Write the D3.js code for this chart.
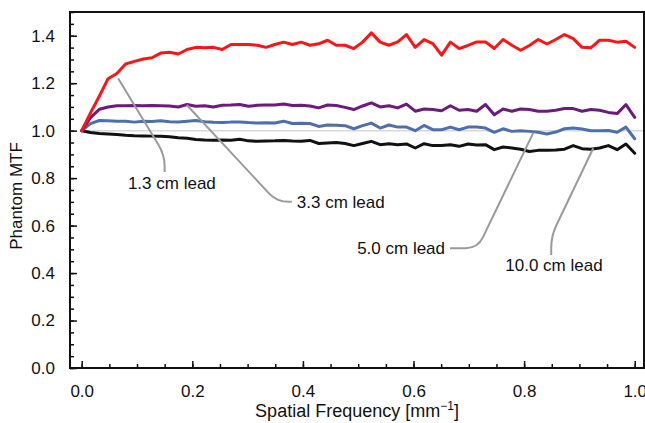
<!DOCTYPE html>
<html>
<head>
<meta charset="utf-8">
<script src="https://cdn.jsdelivr.net/npm/d3@7/dist/d3.min.js"></script>
<style>
  html, body { margin: 0; padding: 0; background: #fff; }
  svg { display: block; }
  text { font-family: "Liberation Sans", Arial, Helvetica, sans-serif; fill: #111; }
</style>
</head>
<body>
<svg id="chart" width="645" height="423"></svg>
<script>
// Phantom MTF vs spatial frequency for four lead thicknesses (64 samples, 0..1 mm^-1)
const nSamples = 64;
const freq = d3.range(nSamples).map(i => i / (nSamples - 1));

const lead13 = [1.000, 1.075, 1.145, 1.219, 1.241, 1.281, 1.292, 1.302, 1.307, 1.327,
  1.330, 1.323, 1.342, 1.351, 1.349, 1.351, 1.342, 1.363, 1.363, 1.363,
  1.360, 1.351, 1.363, 1.373, 1.363, 1.373, 1.360, 1.366, 1.381, 1.360,
  1.360, 1.346, 1.373, 1.412, 1.373, 1.360, 1.374, 1.405, 1.351, 1.384,
  1.367, 1.318, 1.373, 1.346, 1.359, 1.374, 1.374, 1.346, 1.384, 1.360,
  1.339, 1.359, 1.384, 1.365, 1.384, 1.405, 1.388, 1.351, 1.349, 1.381,
  1.381, 1.373, 1.377, 1.351];

const lead33 = [1.000, 1.055, 1.090, 1.100, 1.105, 1.105, 1.106, 1.105, 1.106, 1.105,
  1.104, 1.100, 1.110, 1.103, 1.105, 1.100, 1.107, 1.108, 1.110, 1.103,
  1.107, 1.108, 1.108, 1.112, 1.106, 1.107, 1.104, 1.096, 1.108, 1.106,
  1.098, 1.089, 1.104, 1.117, 1.100, 1.105, 1.096, 1.112, 1.082, 1.091,
  1.089, 1.084, 1.105, 1.086, 1.089, 1.082, 1.110, 1.067, 1.091, 1.082,
  1.091, 1.089, 1.082, 1.082, 1.086, 1.093, 1.093, 1.082, 1.089, 1.086,
  1.077, 1.072, 1.110, 1.056];

const lead50 = [1.000, 1.030, 1.043, 1.042, 1.040, 1.040, 1.036, 1.040, 1.039, 1.042,
  1.038, 1.037, 1.040, 1.043, 1.038, 1.035, 1.034, 1.036, 1.037, 1.034,
  1.032, 1.033, 1.032, 1.040, 1.030, 1.031, 1.030, 1.018, 1.024, 1.023,
  1.021, 1.008, 1.021, 1.032, 1.011, 1.024, 1.015, 1.015, 1.000, 1.022,
  1.004, 1.004, 1.015, 1.004, 1.015, 1.015, 1.011, 0.993, 1.008, 0.997,
  1.000, 0.997, 0.993, 0.986, 0.994, 1.008, 1.011, 1.007, 1.000, 1.000,
  1.001, 0.993, 1.015, 0.966];

const lead100 = [1.000, 0.992, 0.988, 0.986, 0.984, 0.981, 0.979, 0.978, 0.977, 0.976,
  0.974, 0.970, 0.968, 0.963, 0.961, 0.960, 0.961, 0.960, 0.964, 0.957,
  0.955, 0.956, 0.957, 0.959, 0.956, 0.955, 0.959, 0.946, 0.948, 0.950,
  0.946, 0.937, 0.946, 0.955, 0.941, 0.945, 0.941, 0.944, 0.927, 0.945,
  0.937, 0.938, 0.941, 0.934, 0.944, 0.940, 0.941, 0.920, 0.931, 0.927,
  0.922, 0.912, 0.917, 0.917, 0.919, 0.922, 0.937, 0.924, 0.922, 0.927,
  0.937, 0.920, 0.944, 0.905];

const seriesNames = ["10.0 cm lead", "5.0 cm lead", "3.3 cm lead", "1.3 cm lead"];
const seriesValues = [lead100, lead50, lead33, lead13];
const seriesColors = ["#111111", "#4f6eae", "#6c1a7c", "#ff1414"];

const xTicks = [0, 0.2, 0.4, 0.6, 0.8, 1.0];
const xTickLabels = ["0.0", "0.2", "0.4", "0.6", "0.8", "1.0"];
const yTicks = [0, 0.2, 0.4, 0.6, 0.8, 1.0, 1.2, 1.4];
const yTickLabels = ["0.0", "0.2", "0.4", "0.6", "0.8", "1.0", "1.2", "1.4"];
const minorTicks = d3.range(0, 1.5001, 0.05).map(v => +v.toFixed(2));

// Callout labels: anchor on a curve, leader elbow and text position in data units
const callouts = [
  { text: "1.3 cm lead", anchor: [0.066, 1.220], corner: [0.150, 0.897], end: [0.150, 0.826], label: [0.163, 0.780], align: "middle" },
  { text: "3.3 cm lead", anchor: [0.190, 1.108], corner: [0.353, 0.700], end: [0.380, 0.700], label: [0.389, 0.700], align: "start" },
  { text: "5.0 cm lead", anchor: [0.817, 0.993], corner: [0.716, 0.505], end: [0.666, 0.505], label: [0.657, 0.505], align: "end" },
  { text: "10.0 cm lead", anchor: [0.925, 0.926], corner: [0.849, 0.556], end: [0.849, 0.476], label: [0.854, 0.434], align: "middle" }
];

const svg = d3.select("#chart");
const plot = { left: 70, top: 12, right: 644, bottom: 368 };

const x = d3.scaleLinear().domain([-0.0212, 1.0168]).range([plot.left, plot.right]);
const y = d3.scaleLinear().domain([0, 1.5]).range([plot.bottom, plot.top]);

// unity reference line
svg.append("line")
  .attr("x1", x(0)).attr("x2", plot.right)
  .attr("y1", y(1)).attr("y2", y(1))
  .attr("stroke", "#d8d8d8").attr("stroke-width", 1.5);

// curves
const line = d3.line()
  .x((d, i) => x(freq[i]))
  .y(d => y(d));

svg.append("g").selectAll("path")
  .data(seriesValues)
  .join("path")
  .attr("d", d => line(d))
  .attr("fill", "none")
  .attr("stroke", (d, i) => seriesColors[i])
  .attr("stroke-width", 3)
  .attr("stroke-linejoin", "round")
  .attr("stroke-linecap", "round");

// axes with inward ticks
const fontSize = 17;
const yMinor = d3.axisLeft(y).tickValues(minorTicks).tickSize(-4).tickFormat("");
const yMajor = d3.axisLeft(y).tickValues(yTicks).tickSize(-7).tickPadding(15)
  .tickFormat((d, i) => yTickLabels[i]);
const xMinor = d3.axisBottom(x).tickValues(minorTicks.filter(v => v <= 1)).tickSize(-4).tickFormat("");
const xMajor = d3.axisBottom(x).tickValues(xTicks).tickSize(-7).tickPadding(17)
  .tickFormat((d, i) => xTickLabels[i]);

function styleAxis(g) {
  g.select(".domain").remove();
  g.selectAll(".tick line").attr("stroke", "#111").attr("stroke-width", 1.5);
  g.selectAll(".tick text")
    .attr("font-size", fontSize)
    .attr("font-family", "Liberation Sans, Arial, sans-serif")
    .attr("fill", "#111");
}

svg.append("g").attr("transform", `translate(${plot.left},0)`).call(yMinor).call(styleAxis);
svg.append("g").attr("transform", `translate(${plot.left},0)`).call(yMajor).call(styleAxis);
svg.append("g").attr("transform", `translate(0,${plot.bottom})`).call(xMinor).call(styleAxis);
svg.append("g").attr("transform", `translate(0,${plot.bottom})`).call(xMajor).call(styleAxis);

// frame
svg.append("rect")
  .attr("x", plot.left).attr("y", plot.top)
  .attr("width", plot.right - plot.left).attr("height", plot.bottom - plot.top)
  .attr("fill", "none").attr("stroke", "#111").attr("stroke-width", 2);

// axis titles
svg.append("text")
  .attr("transform", `translate(22,${(plot.top + plot.bottom) / 2 + 6}) rotate(-90)`)
  .attr("text-anchor", "middle")
  .attr("font-size", fontSize)
  .text("Phantom MTF");

const xTitle = svg.append("text")
  .attr("x", (plot.left + plot.right) / 2)
  .attr("y", 417)
  .attr("text-anchor", "middle")
  .attr("font-size", 18);
xTitle.append("tspan").text("Spatial Frequency [mm");
xTitle.append("tspan").attr("dy", -7).attr("font-size", 12).text("\u22121");
xTitle.append("tspan").attr("dy", 7).text("]");

// leaders with a rounded elbow
function leaderPath(c, r) {
  const a = [x(c.anchor[0]), y(c.anchor[1])];
  const k = [x(c.corner[0]), y(c.corner[1])];
  const e = [x(c.end[0]), y(c.end[1])];
  const unit = (p, q) => { const dx = p[0] - q[0], dy = p[1] - q[1]; const L = Math.hypot(dx, dy) || 1; return [dx / L, dy / L]; };
  const u1 = unit(a, k), u2 = unit(e, k);
  const p1 = [k[0] + u1[0] * r, k[1] + u1[1] * r];
  const p2 = [k[0] + u2[0] * r, k[1] + u2[1] * r];
  return `M${a[0]},${a[1]}L${p1[0]},${p1[1]}Q${k[0]},${k[1]} ${p2[0]},${p2[1]}L${e[0]},${e[1]}`;
}

const ann = svg.append("g");
ann.selectAll("path")
  .data(callouts)
  .join("path")
  .attr("d", d => leaderPath(d, 12))
  .attr("fill", "none")
  .attr("stroke", "#9a9a9a")
  .attr("stroke-width", 2);

ann.selectAll("text")
  .data(callouts)
  .join("text")
  .attr("x", d => x(d.label[0]))
  .attr("y", d => y(d.label[1]))
  .attr("dy", "0.35em")
  .attr("text-anchor", d => d.align)
  .attr("font-size", fontSize)
  .text(d => d.text);
</script>
</body>
</html>
